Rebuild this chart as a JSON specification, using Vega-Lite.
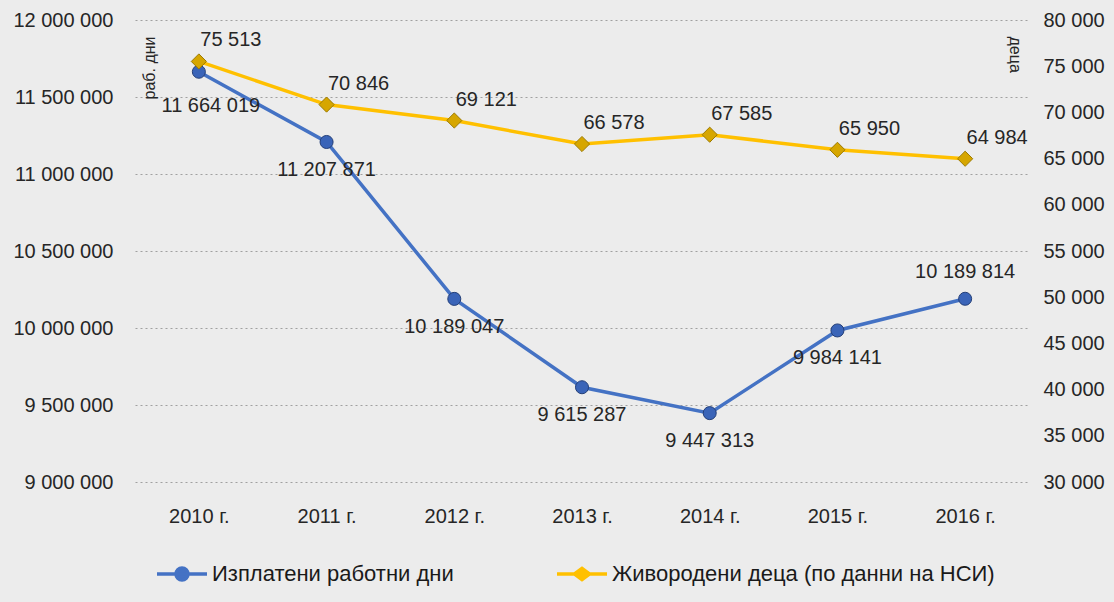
{
  "$schema": "https://vega.github.io/schema/vega-lite/v6.json",
  "width": 894,
  "height": 462,
  "autosize": {"type": "none"},
  "padding": {"left": 135, "top": 20, "right": 85, "bottom": 120},
  "background": "#ececec",
  "config": {
    "view": {"stroke": null},
    "font": "Liberation Sans",
    "locale": {"number": {"decimal": ",", "thousands": " ", "grouping": [3], "currency": ["", ""]}},
    "legend": {"title": null, "orient": "none", "legendX": 20, "legendY": 527, "direction": "horizontal",
               "symbolOpacity": 1, "symbolSize": 2500, "symbolStrokeWidth": 3.5, "labelFontSize": 22,
               "labelColor": "#1a1a1a", "labelOffset": 3, "columnPadding": 96, "labelLimit": 600, "gridAlign": "none"}
  },
  "datasets": {
    "d": [
      {"year": "2010 г.", "s": "Изплатени работни дни", "v": 11664019},
      {"year": "2011 г.", "s": "Изплатени работни дни", "v": 11207871},
      {"year": "2012 г.", "s": "Изплатени работни дни", "v": 10189047},
      {"year": "2013 г.", "s": "Изплатени работни дни", "v": 9615287},
      {"year": "2014 г.", "s": "Изплатени работни дни", "v": 9447313},
      {"year": "2015 г.", "s": "Изплатени работни дни", "v": 9984141},
      {"year": "2016 г.", "s": "Изплатени работни дни", "v": 10189814},
      {"year": "2010 г.", "s": "Живородени деца (по данни на НСИ)", "v": 75513},
      {"year": "2011 г.", "s": "Живородени деца (по данни на НСИ)", "v": 70846},
      {"year": "2012 г.", "s": "Живородени деца (по данни на НСИ)", "v": 69121},
      {"year": "2013 г.", "s": "Живородени деца (по данни на НСИ)", "v": 66578},
      {"year": "2014 г.", "s": "Живородени деца (по данни на НСИ)", "v": 67585},
      {"year": "2015 г.", "s": "Живородени деца (по данни на НСИ)", "v": 65950},
      {"year": "2016 г.", "s": "Живородени деца (по данни на НСИ)", "v": 64984}
    ]
  },
  "data": {"name": "d"},
  "encoding": {
    "x": {
      "field": "year", "type": "nominal", "sort": null,
      "scale": {"type": "point", "padding": 0.5},
      "axis": {"labelAngle": 0, "ticks": false, "domain": false, "grid": false, "title": null,
               "labelFontSize": 20, "labelPadding": 24, "labelColor": "#262626"}
    }
  },
  "layer": [
    {
      "transform": [{"filter": "datum.s == 'Изплатени работни дни'"}],
      "encoding": {
        "y": {
          "field": "v", "type": "quantitative",
          "scale": {"domain": [9000000, 12000000], "nice": false, "zero": false},
          "axis": {
            "orient": "left", "values": [9000000, 9500000, 10000000, 10500000, 11000000, 11500000, 12000000],
            "labelExpr": "format(datum.value, ',')", "grid": true, "gridDash": [2, 3], "gridColor": "#a0a0a0", "gridWidth": 1.2,
            "domain": false, "ticks": false, "labelPadding": 22, "labelFontSize": 20, "labelColor": "#262626",
            "title": "раб. дни", "titleAngle": -90, "titleX": 14, "titleY": 16, "titleAlign": "right",
            "titleBaseline": "middle", "titleFontWeight": "normal", "titleFontSize": 16, "titleColor": "#262626"
          }
        }
      },
      "layer": [
        {"mark": {"type": "line", "color": "#4472C4", "strokeWidth": 3.5}},
        {"mark": {"type": "point", "shape": "circle", "filled": true, "size": 170, "opacity": 1, "fill": "#3a64b8", "stroke": "#243f78", "strokeWidth": 1}},
        {"transform": [{"filter": "datum.year != '2010 г.' && datum.year != '2016 г.'"}],
         "mark": {"type": "text", "dy": 28, "fontSize": 20, "color": "#262626"},
         "encoding": {"text": {"field": "v", "type": "quantitative", "format": ","}}},
        {"transform": [{"filter": "datum.year == '2010 г.'"}],
         "mark": {"type": "text", "dy": 34, "dx": 12, "fontSize": 20, "color": "#262626"},
         "encoding": {"text": {"field": "v", "type": "quantitative", "format": ","}}},
        {"transform": [{"filter": "datum.year == '2016 г.'"}],
         "mark": {"type": "text", "dy": -27, "fontSize": 20, "color": "#262626"},
         "encoding": {"text": {"field": "v", "type": "quantitative", "format": ","}}}
      ]
    },
    {
      "transform": [{"filter": "datum.s != 'Изплатени работни дни'"}],
      "encoding": {
        "y": {
          "field": "v", "type": "quantitative",
          "scale": {"domain": [30000, 80000], "nice": false, "zero": false},
          "axis": {
            "orient": "right", "values": [30000, 35000, 40000, 45000, 50000, 55000, 60000, 65000, 70000, 75000, 80000],
            "labelExpr": "format(datum.value, ',')", "grid": false, "domain": false, "ticks": false, "labelPadding": 14,
            "labelFontSize": 20, "labelColor": "#262626",
            "title": "деца", "titleAngle": 90, "titleX": -15, "titleY": 16, "titleAlign": "left",
            "titleBaseline": "middle", "titleFontWeight": "normal", "titleFontSize": 16, "titleColor": "#262626"
          }
        }
      },
      "layer": [
        {"mark": {"type": "line", "color": "#FFC000", "strokeWidth": 3.5}},
        {"mark": {"type": "point", "shape": "diamond", "filled": true, "size": 230, "opacity": 1, "fill": "#d6a600", "stroke": "#9c7a00", "strokeWidth": 1}},
        {"mark": {"type": "text", "dy": -21, "dx": 32, "fontSize": 20, "color": "#262626"},
         "encoding": {"text": {"field": "v", "type": "quantitative", "format": ","}}}
      ]
    },
    {
      "mark": {"type": "point", "filled": true, "opacity": 0},
      "encoding": {
        "fill": {"field": "s", "type": "nominal",
                 "scale": {"domain": ["Изплатени работни дни", "Живородени деца (по данни на НСИ)"], "range": ["#4472C4", "#FFC000"]}},
        "stroke": {"field": "s", "type": "nominal",
                   "scale": {"domain": ["Изплатени работни дни", "Живородени деца (по данни на НСИ)"], "range": ["#4472C4", "#FFC000"]}},
        "shape": {"field": "s", "type": "nominal",
                  "scale": {"domain": ["Изплатени работни дни", "Живородени деца (по данни на НСИ)"],
                            "range": ["M-1,0H1M-0.24,0A0.24,0.24 0 1,1 0.24,0A0.24,0.24 0 1,1 -0.24,0Z",
                                      "M-1,0H1M-0.3,0L0,-0.22L0.3,0L0,0.22Z"]}}
      }
    }
  ],
  "resolve": {"scale": {"y": "independent"}}
}
